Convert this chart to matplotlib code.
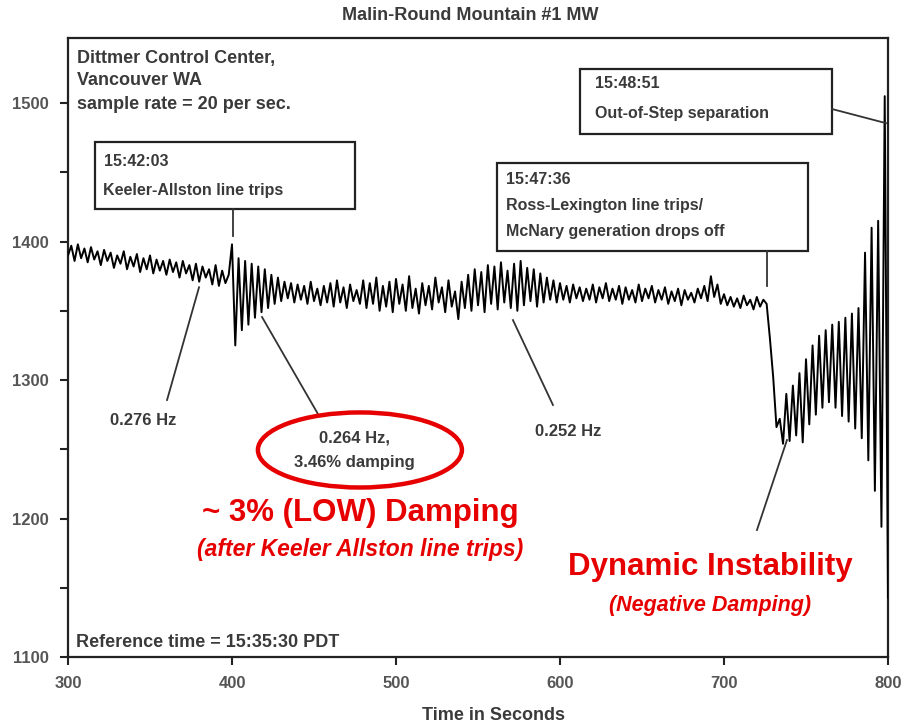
import numpy as np
import matplotlib
matplotlib.use("Agg")
import matplotlib.pyplot as plt
from matplotlib.patches import Rectangle, Ellipse

plt.rcParams["font.family"] = ["Liberation Sans", "DejaVu Sans"]

# MW samples, one every 2 s (local peaks/troughs)
t_start, t_step = 300, 2
mw = [
    1390, 1397, 1386, 1398, 1388, 1395, 1385, 1396, 1387, 1393,  # 300
    1383, 1394, 1386, 1392, 1381, 1390, 1384, 1393, 1380, 1389,  # 320
    1382, 1391, 1378, 1388, 1380, 1390, 1377, 1387, 1379, 1386,  # 340
    1376, 1387, 1378, 1385, 1374, 1386, 1377, 1383, 1372, 1384,  # 360
    1371, 1382, 1374, 1380, 1369, 1383, 1368, 1379, 1370, 1376,  # 380
    1398, 1325, 1388, 1336, 1386, 1340, 1384, 1345, 1382, 1349,  # 400
    1380, 1352, 1376, 1355, 1374, 1357, 1371, 1359, 1370, 1356,  # 420
    1369, 1358, 1368, 1355, 1371, 1357, 1366, 1354, 1368, 1356,  # 440
    1370, 1353, 1372, 1356, 1367, 1352, 1369, 1357, 1365, 1355,  # 460
    1372, 1352, 1370, 1355, 1374, 1350, 1368, 1353, 1371, 1349,  # 480
    1373, 1355, 1369, 1350, 1375, 1352, 1366, 1348, 1370, 1354,  # 500
    1368, 1351, 1374, 1356, 1367, 1349, 1372, 1353, 1364, 1344,  # 520
    1371, 1352, 1376, 1350, 1380, 1354, 1378, 1349, 1383, 1355,  # 540
    1382, 1351, 1385, 1356, 1379, 1352, 1384, 1350, 1386, 1354,  # 560
    1381, 1357, 1380, 1353, 1377, 1356, 1374, 1358, 1372, 1356,  # 580
    1370, 1358, 1368, 1356, 1369, 1359, 1367, 1357, 1366, 1358,  # 600
    1369, 1356, 1367, 1359, 1370, 1357, 1366, 1358, 1368, 1355,  # 620
    1367, 1358, 1365, 1356, 1369, 1357, 1366, 1359, 1368, 1356,  # 640
    1365, 1358, 1367, 1355, 1364, 1357, 1366, 1354, 1365, 1358,  # 660
    1363, 1356, 1366, 1359, 1368, 1357, 1375, 1360, 1369, 1355,  # 680
    1362, 1354, 1360, 1353, 1359, 1352, 1361, 1354, 1358, 1351,  # 700
    1360, 1353, 1358, 1355, 1330, 1302, 1266, 1272,              # 720
    1254, 1290, 1256, 1296, 1260, 1305, 1255, 1315,              # 736
    1268, 1325, 1275, 1332, 1280, 1336, 1284, 1340,              # 752
    1280, 1342, 1274, 1345, 1270, 1348, 1265, 1352,              # 768
    1258, 1392, 1242, 1410, 1220, 1415, 1194, 1505, 1143,        # 784
]
t = t_start + t_step * np.arange(len(mw))

yticks = [1100, 1200, 1300, 1400, 1500]
xticks = [300, 400, 500, 600, 700, 800]

gray = "#3a3a3a"
red = "#e60000"

fig = plt.figure(figsize=(9.06, 7.26), dpi=100)
ax = fig.add_axes([68 / 906, 1 - 657 / 726, 820 / 906, 619 / 726])

ax.plot(t, mw, color="black", lw=1.4, zorder=3)

ax.set_xlim(300, 800)
ax.set_ylim(1100, 1547)
ax.set_xticks(xticks)
ax.set_yticks(yticks)
ax.set_yticks(np.arange(1150, 1550, 100), minor=True)
ax.tick_params(axis="both", which="both", direction="out", length=6, width=1.5,
               color="#222222", labelsize=12, labelcolor="#555555", pad=8)
for lab in ax.get_xticklabels() + ax.get_yticklabels():
    lab.set_fontweight("bold")
for s in ax.spines.values():
    s.set_linewidth(1.6)
    s.set_color("#222222")

fig.text(0.519, 0.979, "Malin-Round Mountain #1 MW", ha="center", va="center",
         fontsize=13, fontweight="bold", color=gray)
fig.text(0.545, 0.015, "Time in Seconds", ha="center", va="center",
         fontsize=13, fontweight="bold", color=gray)

# header / footer notes
for y, s in [(1532.5, "Dittmer Control Center,"), (1516.6, "Vancouver WA"),
             (1499.3, "sample rate = 20 per sec.")]:
    ax.text(305.5, y, s, ha="left", va="center", fontsize=13,
            fontweight="bold", color=gray, zorder=5)
ax.text(304.9, 1110.8, "Reference time = 15:35:30 PDT", ha="left", va="center",
        fontsize=13, fontweight="bold", color=gray, zorder=5)

# event boxes
boxes = [
    ((316.5, 1423.3), 158.5, 48.5, [(322, 1458, "15:42:03"),
                                     (321.3, 1437, "Keeler-Allston line trips")]),
    ((612.2, 1477.6), 153.7, 47.0, [(621.3, 1514.5, "15:48:51"),
                                     (621.3, 1492.8, "Out-of-Step separation")]),
    ((561.6, 1393.0), 189.6, 63.6, [(567, 1444.9, "15:47:36"),
                                     (567, 1426.2, "Ross-Lexington line trips/"),
                                     (567, 1407.4, "McNary generation drops off")]),
]
for (x0, y0), w, h, lines in boxes:
    ax.add_patch(Rectangle((x0, y0), w, h, facecolor="white", edgecolor="#222222",
                           lw=1.6, zorder=4))
    for x, y, s in lines:
        ax.text(x, y, s, ha="left", va="center", fontsize=11.5,
                fontweight="bold", color=gray, zorder=5)

leaders = [
    ((400.6, 1423.3), (400.6, 1403.8)),
    ((765.9, 1495.7), (798.8, 1485.5)),
    ((726.2, 1393.0), (726.2, 1367.6)),
    ((360.4, 1285.6), (379.9, 1367.0)),
    ((452.4, 1275.5), (418.3, 1345.5)),
    ((595.7, 1282.0), (571.3, 1343.3)),
    ((720.1, 1191.7), (738.4, 1256.7)),
]
for (xa, ya), (xb, yb) in leaders:
    ax.plot([xa, xb], [ya, yb], color="#333333", lw=1.3, zorder=4)

# frequency notes
ax.text(345.7, 1271, "0.276 Hz", ha="center", va="center", fontsize=12,
        fontweight="bold", color=gray)
ax.text(474.4, 1258, "0.264 Hz,", ha="center", va="center", fontsize=12,
        fontweight="bold", color=gray)
ax.text(474.4, 1240.8, "3.46% damping", ha="center", va="center", fontsize=12,
        fontweight="bold", color=gray)
ax.text(604.9, 1262.5, "0.252 Hz", ha="center", va="center", fontsize=12,
        fontweight="bold", color=gray)
ax.add_patch(Ellipse((478, 1249.5), 124.4, 54.2, fill=False, edgecolor=red,
                     lw=3.2, zorder=5))

# red callouts
ax.text(478, 1204, "~ 3% (LOW) Damping", ha="center", va="center", fontsize=22.5,
        fontweight="bold", color=red)
ax.text(478, 1177.3, "(after Keeler Allston line trips)", ha="center", va="center",
        fontsize=16.5, fontweight="bold", style="italic", color=red)
ax.text(691.5, 1165, "Dynamic Instability", ha="center", va="center", fontsize=22.5,
        fontweight="bold", color=red)
ax.text(691.5, 1137.5, "(Negative Damping)", ha="center", va="center",
        fontsize=15.5, fontweight="bold", style="italic", color=red)

fig.savefig("out.png", dpi=100)
